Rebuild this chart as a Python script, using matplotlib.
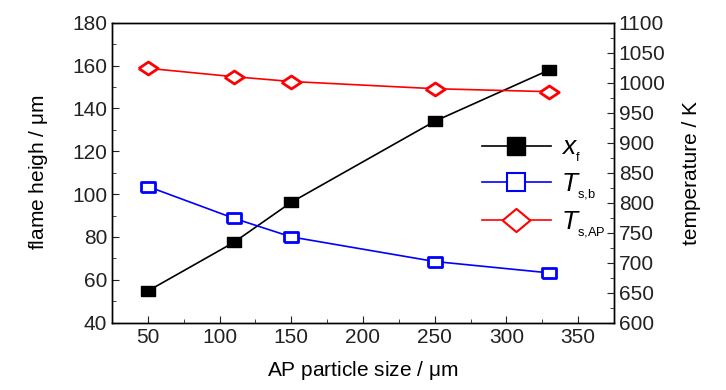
import matplotlib
matplotlib.use("Agg")
import matplotlib.pyplot as plt
from matplotlib.ticker import MultipleLocator
from matplotlib.lines import Line2D

plt.rcParams['font.family'] = ['Liberation Sans', 'DejaVu Sans']
plt.rcParams['mathtext.fontset'] = 'custom'
plt.rcParams['mathtext.rm'] = 'Liberation Sans'
plt.rcParams['mathtext.it'] = 'Liberation Sans:italic'

particle_size = [50, 110, 150, 250, 330]
x_f = [54.8, 77.5, 96.2, 134.0, 158.0]
T_sb = [827, 774, 743, 702, 683]
T_sAP = [1024, 1010, 1002, 990, 985]

fig = plt.figure(figsize=(7.26, 3.90), dpi=100)
ax = fig.add_axes([112/726, 1-322.7/390, (614-112)/726, 300/390])
ax2 = ax.twinx()

rect = [(-1.35, -1), (1.35, -1), (1.35, 1), (-1.35, 1), (-1.35, -1)]
diam = [(-1.5, 0), (0, -1), (1.5, 0), (0, 1), (-1.5, 0)]
diam_leg = [(-1.2, 0), (0, -1), (1.2, 0), (0, 1), (-1.2, 0)]

ax.plot(particle_size, x_f, color='black', lw=1.2, marker=rect, ms=10,
        mfc='black', mec='black', zorder=3)
ax2.plot(particle_size, T_sb, color='#0000ff', lw=1.2, marker=rect, ms=10,
         mfc='white', mec='#0000ff', mew=2, zorder=3)
ax2.plot(particle_size, T_sAP, color='#ff0000', lw=1.2, marker=diam, ms=14,
         mfc='white', mec='#ff0000', mew=2, zorder=3)

ax.set_xlim(25, 375)
ax.set_ylim(40, 180)
ax2.set_ylim(600, 1100)

ax.xaxis.set_major_locator(MultipleLocator(50))
ax.xaxis.set_minor_locator(MultipleLocator(25))
ax.yaxis.set_major_locator(MultipleLocator(20))
ax.yaxis.set_minor_locator(MultipleLocator(10))
ax2.yaxis.set_major_locator(MultipleLocator(50))
ax2.yaxis.set_minor_locator(MultipleLocator(25))

for a in (ax, ax2):
    a.tick_params(which='both', direction='in', labelsize=15, colors='#222222')
    a.tick_params(which='major', length=5)
    a.tick_params(which='minor', length=3)
    for s in a.spines.values():
        s.set_linewidth(1.0)
ax.tick_params(axis='y', which='both', right=False)

ax.set_xlabel('AP particle size / $\\mathrm{\\mu m}$', fontsize=15, labelpad=9)
ax.set_ylabel('flame heigh / $\\mathrm{\\mu m}$', fontsize=15, labelpad=16)
ax2.set_ylabel('temperature / K', fontsize=15, labelpad=12)

handles = [
    Line2D([], [], color='black', lw=1.2, marker='s', ms=13, mfc='black', mec='black'),
    Line2D([], [], color='#0000ff', lw=1.2, marker='s', ms=13, mfc='white', mec='#0000ff', mew=1.5),
    Line2D([], [], color='#ff0000', lw=1.2, marker=diam_leg, ms=20, mfc='white', mec='#ff0000', mew=1.5),
]
labels = ['$x_{{}_{\\mathrm{f}}}$', '$T_{{}_{\\mathrm{s{,}b}}}$', '$T_{{}_{\\mathrm{s{,}AP}}}$']
leg = ax2.legend(handles, labels, loc='upper left', bbox_to_anchor=(474/726, 1-128/390),
                 bbox_transform=fig.transFigure, frameon=False, fontsize=19,
                 handlelength=2.6, labelspacing=0.3, handletextpad=0.4,
                 borderaxespad=0, borderpad=0.3)

fig.savefig('out.png', dpi=100)
